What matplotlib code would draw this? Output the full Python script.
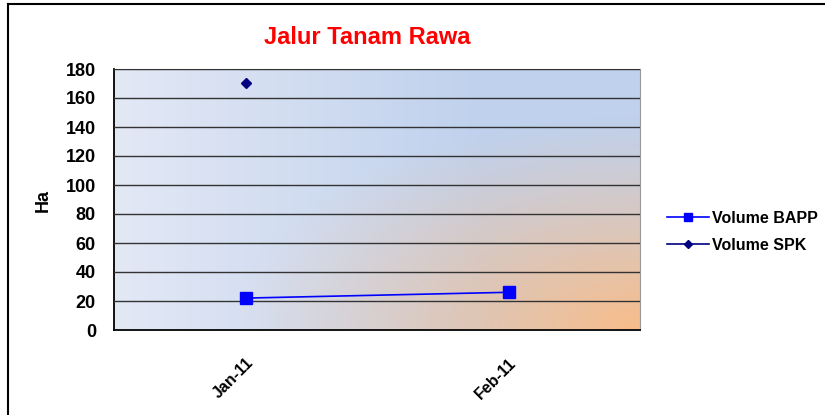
import numpy as np
import matplotlib
matplotlib.use("Agg")
import matplotlib.pyplot as plt
from matplotlib.lines import Line2D

plt.rcParams['font.family'] = ['Liberation Sans', 'DejaVu Sans']

categories = ["Jan-11", "Feb-11"]
volume_bapp = [22, 26]
volume_spk = [170, np.nan]
y_ticks = [0, 20, 40, 60, 80, 100, 120, 140, 160, 180]

W, H = 825, 415
fig = plt.figure(figsize=(W / 100, H / 100), dpi=100)

# outer frame
fig.add_artist(Line2D([8 / W, 8 / W], [0, 1 - 4 / H], color='black', lw=1.5, transform=fig.transFigure))
fig.add_artist(Line2D([8 / W, 1], [1 - 4 / H, 1 - 4 / H], color='black', lw=1.5, transform=fig.transFigure))

left, right, top, bottom = 114, 640, 69, 330
ax = fig.add_axes([left / W, 1 - bottom / H, (right - left) / W, (bottom - top) / H])

# gradient background
ny, nx = 200, 400
xx, yy = np.meshgrid(np.linspace(0, 1, nx), np.linspace(0, 1, ny))  # yy=0 top
c_light = np.array([0.89, 0.91, 0.96])
c_blue = np.array([0.75, 0.82, 0.93])
c_orange = np.array([0.97, 0.74, 0.54])
t = np.clip(xx / 0.7, 0, 1)[..., None]
base = c_light * (1 - t) + c_blue * t
d = np.sqrt(((1 - xx) * 1.0) ** 2 + ((1 - yy) * 0.95) ** 2)
s = np.clip(1 - d / 0.78, 0, 1)[..., None] ** 1.1
img = base * (1 - s) + c_orange * s
ax.imshow(img, extent=[-0.5, 1.5, 0, 180], aspect='auto', zorder=0, origin='upper')

x = np.arange(len(categories))
ax.plot(x, volume_bapp, color='#0000ff', lw=1.2, marker='s', ms=8, zorder=3, label='Volume BAPP')
ax.plot(x, volume_spk, color='#000080', lw=1.2, marker='D', ms=5, zorder=3, label='Volume SPK')

ax.set_xlim(-0.5, 1.5)
ax.set_ylim(0, 180)
ax.set_yticks(y_ticks)
ax.set_yticklabels([str(v) for v in y_ticks], fontsize=13, fontweight='bold')
ax.set_xticks(x)
ax.set_xticklabels(categories, rotation=45, ha='right', rotation_mode='anchor', fontsize=11.5, fontweight='bold')
ax.tick_params(axis='x', length=0, pad=18)
ax.tick_params(axis='y', length=0, pad=13)
ax.grid(axis='y', color='#333333', lw=1.0, zorder=1)
ax.set_axisbelow(False)
for sp in ['top', 'right']:
    ax.spines[sp].set_color('#999999')
for sp in ['left', 'bottom']:
    ax.spines[sp].set_color('black')
    ax.spines[sp].set_linewidth(1.3)

fig.text(43 / W, 1 - 200 / H, 'Ha', rotation=90, fontsize=13, fontweight='bold', ha='center', va='center')
fig.text(367 / W, 1 - 37 / H, 'Jalur Tanam Rawa', color='#ff0000', fontsize=17, fontweight='bold', ha='center', va='center')

leg = fig.legend(handles=ax.get_lines(), loc='center left', bbox_to_anchor=(667 / W, 1 - 232 / H),
                 frameon=False, prop={'size': 11.5, 'weight': 'bold'}, handlelength=2.6,
                 handletextpad=0.2, labelspacing=0.75, markerscale=0.8, borderpad=0, borderaxespad=0)

fig.savefig('out.png', dpi=100)
